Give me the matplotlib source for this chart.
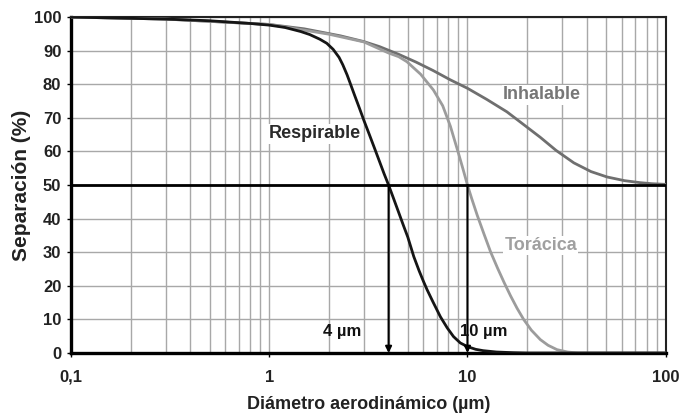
import matplotlib
matplotlib.use('Agg')
import matplotlib.pyplot as plt
from matplotlib.ticker import FixedLocator, NullFormatter

plt.rcParams['font.family'] = ['Liberation Sans', 'DejaVu Sans']
plt.rcParams['font.weight'] = 'bold'

# Valors llegits de la figura (diàmetre en µm, separació en %)
diam_resp = [0.1, 0.3, 0.5, 0.8, 1.0, 1.2, 1.44, 1.6, 1.8, 1.95, 2.1, 2.25, 2.35, 2.47, 2.55, 2.7, 2.85,
             3.0, 3.2, 3.4, 3.6, 3.8, 4.0, 4.25, 4.5, 4.75, 5.0, 5.36, 5.7, 6.0, 6.26, 6.7, 7.3, 7.9,
             8.5, 9.2, 10, 11, 12, 14, 17, 20, 100]
resp = [100, 99.4, 98.9, 98.1, 97.6, 96.9, 95.7, 94.8, 93.4, 92.2, 90.4, 88.0, 85.8, 82.8, 80.6, 76.6, 72.9,
        69.3, 65.0, 60.9, 57.0, 53.3, 50.0, 45.8, 41.8, 38.0, 34.5, 28.7, 24.5, 21.3, 18.8, 15.2, 10.8, 7.5,
        4.9, 3.0, 1.9, 1.1, 0.7, 0.3, 0.1, 0, 0]

diam_tor = [0.1, 0.3, 1, 2, 3, 4, 4.5, 4.95, 5.8, 6.73, 7.5, 8.2, 9.0, 9.5, 10, 10.5, 11.2, 12.1, 13.1,
            14.2, 15.3, 16.5, 17.8, 19.2, 21, 23.3, 25.5, 28.3, 32, 36, 100]
tor = [100, 99.4, 97.8, 94.9, 92.6, 89.3, 88.2, 86.7, 83.0, 78.3, 73.6, 67.5, 59.5, 54.7, 50.0, 46.0, 41.0,
       35.5, 30.0, 25.2, 21.0, 17.0, 13.3, 10.0, 6.8, 4.0, 2.3, 1.0, 0.3, 0, 0]

diam_inh = [0.1, 0.3, 1, 1.5, 2.29, 3, 3.6, 4.5, 5.5, 6.7, 8.2, 10, 12.5, 15.8, 19, 23.3, 28, 34.4,
            42, 50.6, 62, 74.5, 85, 100]
inh = [100, 99.4, 97.8, 96.5, 94.4, 92.7, 91.2, 88.9, 86.6, 84.1, 81.3, 78.8, 75.5, 71.8, 68.2, 64.2, 60.3,
       56.6, 54.0, 52.4, 51.3, 50.7, 50.4, 50.2]

cortes = [4, 10]
cortes_txt = ['4 µm', '10 µm']
xticks = [0.1, 1, 10, 100]
xtick_labels = ['0,1', '1', '10', '100']
yticks = list(range(0, 101, 10))

fig = plt.figure(figsize=(6.8, 4.16), dpi=100)
ax = fig.add_axes([0.1044, 0.1514, 0.8746, 0.8076])

ax.set_xscale('log')
ax.set_xlim(0.1, 100)
ax.set_ylim(0, 100)

# Graella
ax.xaxis.set_major_locator(FixedLocator(xticks))
ax.xaxis.set_minor_locator(FixedLocator([m * 10.0 ** e for e in (-1, 0, 1) for m in range(2, 10)]))
ax.xaxis.set_minor_formatter(NullFormatter())
ax.set_xticklabels(xtick_labels)
ax.set_yticks(yticks)
ax.grid(True, which='both', axis='x', color='#a8a8a8', lw=1.0, zorder=0)
ax.grid(True, which='major', axis='y', color='#a8a8a8', lw=1.0, zorder=0)
ax.set_axisbelow(True)

ax.tick_params(axis='both', which='major', labelsize=12, length=3, width=1, direction='out')
ax.tick_params(axis='x', which='major', pad=9)
ax.tick_params(axis='y', which='major', pad=4)
ax.tick_params(axis='x', which='minor', length=0)
for lab in ax.get_xticklabels() + ax.get_yticklabels():
    lab.set_fontweight('bold')
    lab.set_color('#222222')

for side in ['left', 'bottom']:
    ax.spines[side].set_linewidth(2.4)
for side in ['top', 'right']:
    ax.spines[side].set_linewidth(1.5)
    ax.spines[side].set_color('#222222')

# Corbes
ax.plot(diam_inh, inh, color='#6f6f6f', lw=2.0, zorder=3)
ax.plot(diam_tor, tor, color='#9c9c9c', lw=2.0, zorder=3)
ax.plot(diam_resp, resp, color='#151515', lw=2.0, zorder=4)

ax.axhline(50, color='black', lw=2.0, zorder=5)

# Fletxes de tall
for c in cortes:
    ax.annotate('', xy=(c, 0), xytext=(c, 50),
                arrowprops=dict(arrowstyle='-|>', color='black', lw=1.5, mutation_scale=9,
                                shrinkA=0, shrinkB=0), zorder=6)

caixa = dict(facecolor='white', edgecolor='none', pad=1.0)
ax.text(1.69, 65.2, 'Respirable', color='#2a2a2a', fontsize=13, fontweight='bold',
        ha='center', va='center', bbox=caixa, zorder=2)
ax.text(23.8, 76.8, 'Inhalable', color='#777777', fontsize=13, fontweight='bold',
        ha='center', va='center', bbox=caixa, zorder=2)
ax.text(23.4, 32.0, 'Torácica', color='#a0a0a0', fontsize=13, fontweight='bold',
        ha='center', va='center', bbox=caixa, zorder=2)
ax.text(2.32, 6.5, cortes_txt[0], color='#111111', fontsize=12, fontweight='bold',
        ha='center', va='center', zorder=7)
ax.text(9.12, 6.5, cortes_txt[1], color='#111111', fontsize=12, fontweight='bold',
        ha='left', va='center', zorder=7)

ax.set_xlabel('Diámetro aerodinámico (µm)', fontsize=13, fontweight='bold', color='#222222', labelpad=8)
ax.set_ylabel('Separación (%)', fontsize=15, fontweight='bold', color='#222222', labelpad=2)

fig.savefig('out.png', dpi=100)
